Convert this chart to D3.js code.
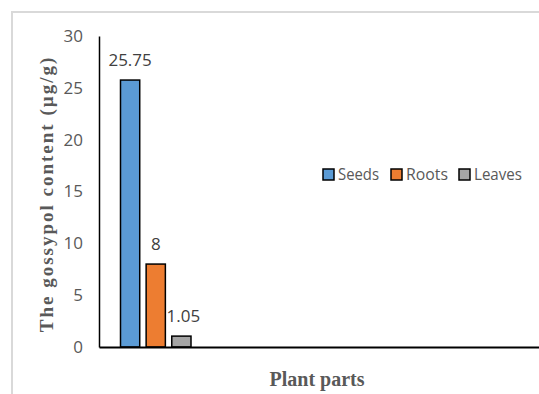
<!DOCTYPE html>
<html>
<head>
<meta charset="utf-8">
<script src="https://cdn.jsdelivr.net/npm/d3@7"></script>
<style>
  html, body { margin: 0; padding: 0; background: #fff; }
  svg { display: block; }
</style>
</head>
<body>
<svg id="chart" width="539" height="394"></svg>
<script>
const categories = ["Plant parts"];
const series = ["Seeds", "Roots", "Leaves"];
const values = [25.75, 8, 1.05];
const valueLabels = ["25.75", "8", "1.05"];
const colors = ["#5b9bd5", "#ed7d31", "#a5a5a5"];
const yTicks = [0, 5, 10, 15, 20, 25, 30];

const svg = d3.select("#chart");
const W = 539, H = 394;
const sans = "'Open Sans', 'Liberation Sans', sans-serif";
const serif = "'Liberation Serif', 'Times New Roman', serif";

// outer chart-area border
svg.append("path")
  .attr("d", `M12,${H} L12,12 L${W},12`)
  .attr("fill", "none").attr("stroke", "#d9d9d9").attr("stroke-width", 2);

const plot = { left: 99, right: 539, top: 36, bottom: 347 };

const y = d3.scaleLinear().domain([0, 30]).range([plot.bottom, plot.top]);
const xSeries = d3.scaleBand().domain(series).range([120.5, 191]).paddingInner(0.25);

// y axis
const yAxis = d3.axisLeft(y).tickValues(yTicks).tickSize(0).tickPadding(16).tickFormat(d3.format("d"));
const gy = svg.append("g").attr("transform", `translate(${plot.left},0)`).call(yAxis);
gy.select(".domain").attr("stroke", "#000").attr("stroke-width", 1.5);
gy.selectAll("text").attr("font-family", sans)
  .attr("font-size", 17).attr("fill", "#595959");

// bars
svg.append("g").selectAll("rect").data(series).join("rect")
  .attr("x", d => xSeries(d))
  .attr("width", xSeries.bandwidth())
  .attr("y", (d, i) => y(values[i]))
  .attr("height", (d, i) => y(0) - y(values[i]))
  .attr("fill", (d, i) => colors[i])
  .attr("stroke", "#000").attr("stroke-width", 1.5);

// value labels
svg.append("g").selectAll("text").data(series).join("text")
  .attr("x", (d, i) => xSeries(d) + xSeries.bandwidth() / 2 + (i === 2 ? 2 : 0))
  .attr("y", (d, i) => y(values[i]) - 14.5)
  .attr("text-anchor", "middle")
  .attr("font-family", sans)
  .attr("font-size", 17).attr("fill", "#404040")
  .text((d, i) => valueLabels[i]);

// x axis line
const xAxisScale = d3.scaleBand().domain(categories).range([plot.left, plot.right]);
const gx = svg.append("g").attr("transform", `translate(0,${plot.bottom})`)
  .call(d3.axisBottom(xAxisScale).tickSize(0).tickFormat(""));
gx.select(".domain").attr("stroke", "#000").attr("stroke-width", 2);

// axis titles
svg.append("text")
  .attr("x", 317).attr("y", 386)
  .attr("text-anchor", "middle")
  .attr("font-family", serif)
  .attr("font-weight", "bold").attr("font-size", 20).attr("fill", "#595959")
  .text(categories[0]);

svg.append("text")
  .attr("transform", "translate(53,194) rotate(-90)")
  .attr("text-anchor", "middle")
  .attr("font-family", serif)
  .attr("font-weight", "bold").attr("font-size", 19).attr("fill", "#595959")
  .attr("letter-spacing", 2)
  .text("The gossypol content (µg/g)");

// legend
const legendX = [323, 391, 459];
const legendLen = [41, 42, 48];
const lg = svg.append("g").selectAll("g").data(series).join("g")
  .attr("transform", (d, i) => `translate(${legendX[i]},169)`);
lg.append("rect").attr("width", 11).attr("height", 11)
  .attr("fill", (d, i) => colors[i]).attr("stroke", "#000").attr("stroke-width", 1.5);
lg.append("text").attr("x", 15).attr("y", 11)
  .attr("font-family", sans)
  .attr("font-size", 17).attr("fill", "#595959")
  .attr("textLength", (d, i) => legendLen[i])
  .attr("lengthAdjust", "spacingAndGlyphs")
  .text(d => d);
</script>
</body>
</html>
